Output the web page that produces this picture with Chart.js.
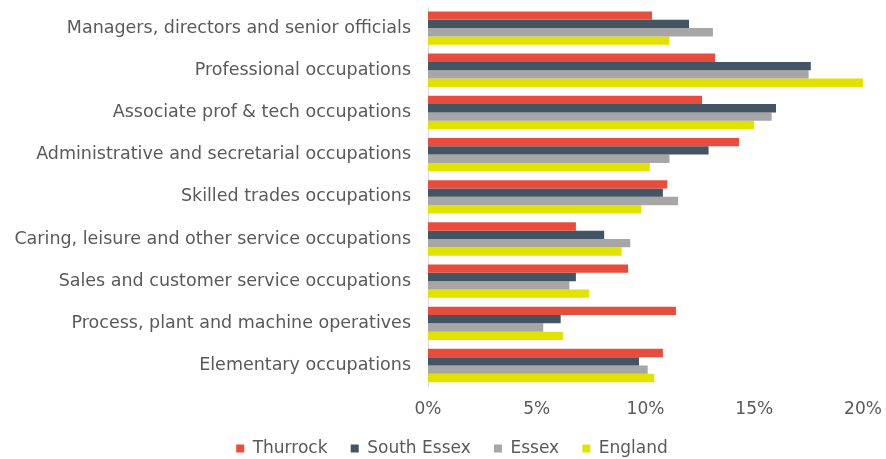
<!DOCTYPE html>
<html>
<head>
<meta charset="utf-8">
<script src="https://cdn.jsdelivr.net/npm/chart.js@4"></script>
<style>
  html, body { margin: 0; padding: 0; background: #fff; }
  #wrap { width: 886px; height: 459px; }
</style>
</head>
<body>
<div id="wrap"><canvas id="chart" width="886" height="459"></canvas></div>
<script>
// occupation shares, in percent
const categories = [
    'Managers, directors and senior officials',
    'Professional occupations',
    'Associate prof & tech occupations',
    'Administrative and secretarial occupations',
    'Skilled trades occupations',
    'Caring, leisure and other service occupations',
    'Sales and customer service occupations',
    'Process, plant and machine operatives',
    'Elementary occupations'
];
const thurrock    = [10.3, 13.2, 12.6, 14.3, 11.0, 6.8, 9.2, 11.4, 10.8];
const southEssex  = [12.0, 17.6, 16.0, 12.9, 10.8, 8.1, 6.8, 6.1, 9.7];
const essex       = [13.1, 17.5, 15.8, 11.1, 11.5, 9.3, 6.5, 5.3, 10.1];
const england     = [11.1, 20.1, 15.0, 10.2, 9.8, 8.9, 7.4, 6.2, 10.4];
const xTicks      = [0, 5, 10, 15, 20];

const seriesNames = ['Thurrock', 'South Essex', 'Essex', 'England'];
const seriesData = [thurrock, southEssex, essex, england];
const colors = ['#E84C3D', '#435563', '#A6A6A6', '#E2E200'];

const textColor = '#595959';
const font = { family: '"DejaVu Sans", sans-serif', size: 17 };
const catFont = { family: '"DejaVu Sans", sans-serif', size: 17.5 };

new Chart(document.getElementById('chart'), {
    type: 'bar',
    data: {
        labels: categories,
        datasets: seriesNames.map((name, i) => ({
            label: name,
            data: seriesData[i],
            backgroundColor: colors[i],
            borderWidth: 0,
            barPercentage: 1.0,
            categoryPercentage: 0.79
        }))
    },
    options: {
        indexAxis: 'y',
        responsive: false,
        animation: false,
        layout: { padding: { top: 7, right: -18, bottom: -8, left: 0 } },
        plugins: {
            legend: {
                position: 'bottom',
                labels: {
                    color: textColor, font: font, boxWidth: 8, boxHeight: 8, padding: 7,
                    // a little extra room after each entry, as in the original legend
                    generateLabels: chart => {
                        const items = Chart.defaults.plugins.legend.labels.generateLabels(chart);
                        items.forEach((it, i) => { if (i < items.length - 1) it.text += '   '; });
                        return items;
                    }
                }
            },
            tooltip: { enabled: false }
        },
        scales: {
            x: {
                min: 0, max: 20,
                afterBuildTicks: scale => { scale.ticks = xTicks.map(v => ({ value: v })); },
                ticks: { color: textColor, font: font, padding: 13, callback: v => v + '%' },
                grid: { display: false, drawTicks: false },
                border: { display: false },
                afterFit: scale => { scale.paddingRight = 23; }
            },
            y: {
                ticks: { color: textColor, font: catFont, padding: 17 },
                grid: { display: false, drawTicks: false },
                border: { display: true, color: '#D9D9D9', width: 1 },
                afterFit: scale => {
                    scale.width = 428;
                    scale.paddingTop = 0;
                    scale.paddingBottom = 0;
                }
            }
        }
    }
});
</script>
</body>
</html>
